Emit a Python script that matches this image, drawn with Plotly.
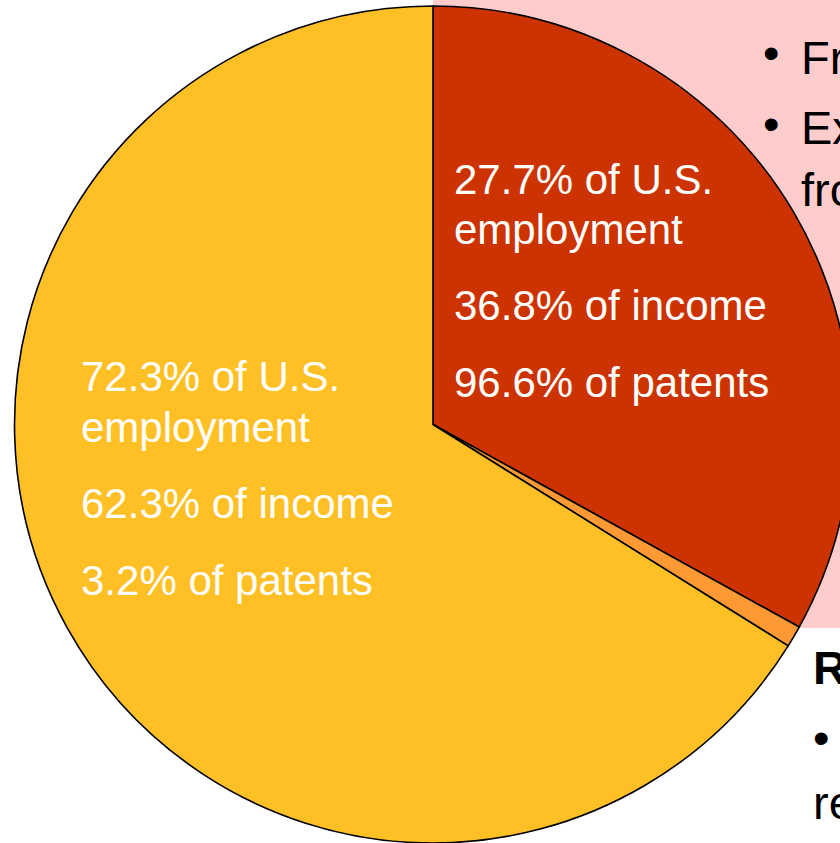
import plotly.graph_objects as go

# ---- data ----
segments = ["Innovation-intensive industries", "Unclassified", "All other industries"]
shares = [33.04, 0.83, 66.13]
colors = ["#CC3300", "#FF9933", "#FFC026"]

right_lines = ["27.7% of U.S.", "employment", "36.8% of income", "96.6% of patents"]
left_lines = ["72.3% of U.S.", "employment", "62.3% of income", "3.2% of patents"]

# ---- canvas ----
W, H = 866, 843
FONT = "Liberation Sans, Arial, Helvetica, sans-serif"


def px(x):
    return x / W


def py(y):
    return 1 - y / H


fig = go.Figure()
fig.add_trace(go.Pie(
    labels=segments,
    values=shares,
    sort=False,
    direction="clockwise",
    rotation=0,
    marker=dict(colors=colors, line=dict(color="#000000", width=1.6)),
    textinfo="none",
    hoverinfo="label+percent",
    showlegend=False,
    domain=dict(x=[0, 1], y=[0, 837 / H]),
))

annotations = []
# labels inside red slice
for txt, yc in zip(right_lines, [180, 229, 305, 382]):
    annotations.append(dict(x=px(452), y=py(yc), text=txt, xanchor="left", yanchor="middle",
                            showarrow=False, font=dict(family=FONT, size=42, color="white")))
# labels inside yellow slice
for txt, yc in zip(left_lines, [376, 427, 503, 580]):
    annotations.append(dict(x=px(79), y=py(yc), text=txt, xanchor="left", yanchor="middle",
                            showarrow=False, font=dict(family=FONT, size=42, color="white")))

# slide text fragments (cropped by the slide edge)
slide_text = [
    ("•", 771, 52, "center", False),
    ("Fr", 799, 57, "left", False),
    ("•", 771, 124, "center", False),
    ("Ex", 799, 128, "left", False),
    ("fro", 799, 190, "left", False),
    ("R", 811, 667, "left", True),
    ("•", 821, 737, "center", False),
    ("re", 811, 802, "left", False),
]
for txt, x, y, anc, bold in slide_text:
    annotations.append(dict(x=px(x), y=py(y), text=f"<b>{txt}</b>" if bold else txt,
                            xanchor=anc, yanchor="middle", showarrow=False,
                            font=dict(family=FONT, size=47, color="black")))

fig.update_layout(
    width=W, height=H,
    margin=dict(l=0, r=0, t=0, b=0),
    paper_bgcolor="white",
    plot_bgcolor="white",
    annotations=annotations,
    shapes=[dict(type="rect", xref="paper", yref="paper",
                 x0=px(433), x1=1, y0=py(628), y1=1,
                 fillcolor="#FFCCCC", line=dict(width=0), layer="below")],
)

fig.write_html(
    "out.html",
    config={"displayModeBar": False},
    post_script="document.body.style.margin='0';document.body.style.overflow='hidden';"
                "document.documentElement.style.overflow='hidden';",
)
